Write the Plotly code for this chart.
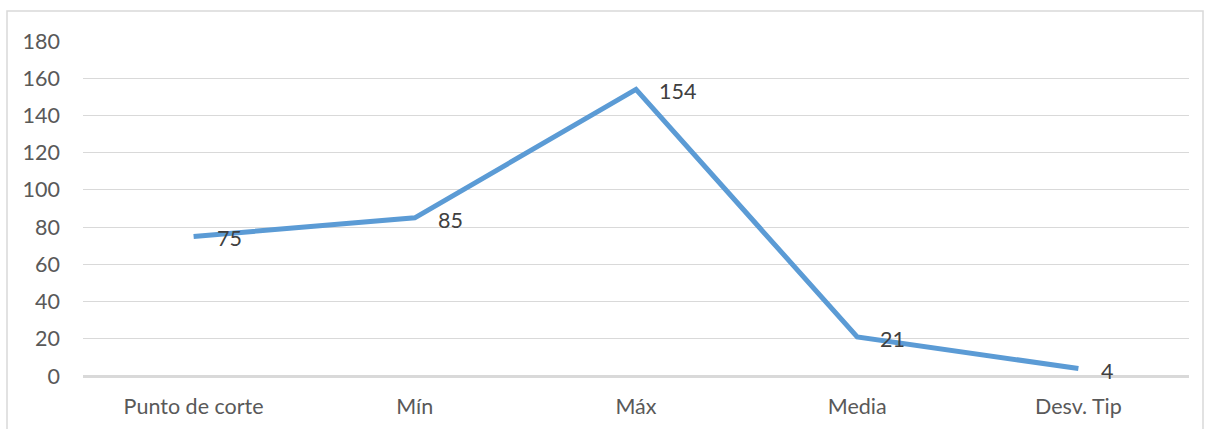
import plotly.graph_objects as go

categories = ["Punto de corte", "Mín", "Máx", "Media", "Desv. Tip"]
values = [75, 85, 154, 21, 4]
labels = ["75", "85", "154", "21", "4"]
y_ticks = [0, 20, 40, 60, 80, 100, 120, 140, 160, 180]

FONT = "Lato"
TXT = "#595959"
FS = 21.5

fig = go.Figure()
fig.add_trace(go.Scatter(
    x=categories, y=values, mode="lines",
    line=dict(color="#5B9BD5", width=5),
    hoverinfo="skip", showlegend=False,
))

for c, v, t in zip(categories, values, labels):
    fig.add_annotation(x=c, y=v, text=t, showarrow=False,
                       xanchor="left", yanchor="middle", xshift=21, yshift=-2,
                       font=dict(family=FONT, size=FS, color="#404040"))

W, H = 1209, 429
l, r, t, b = 83, 20, 41, 53
pw, ph = W - l - r, H - t - b
fig.add_shape(type="rect", xref="paper", yref="paper",
              x0=(7 - l) / pw, x1=(1203 - l) / pw,
              y0=-(H + 5 - t - ph) / ph, y1=(H - 11 - b) / ph,
              line=dict(color="#D9D9D9", width=1.5), layer="below")

fig.update_layout(
    width=W, height=H,
    margin=dict(l=l, r=r, t=t, b=b, autoexpand=False),
    paper_bgcolor="white", plot_bgcolor="white",
    font=dict(family=FONT, size=FS, color=TXT),
    xaxis=dict(type="category", range=[-0.5, 4.5], showgrid=False,
               showline=False, ticks="", zeroline=False, automargin=False,
               tickfont=dict(family=FONT, size=FS, color=TXT),
               ticklabelstandoff=15),
    yaxis=dict(range=[0, 180], tickvals=y_ticks, showgrid=True,
               gridcolor="#D9D9D9", gridwidth=1.3, zeroline=True,
               zerolinecolor="#D9D9D9", zerolinewidth=2.5, automargin=False,
               showline=False, ticks="",
               tickfont=dict(family=FONT, size=FS, color=TXT),
               ticklabelstandoff=22),
)

fig.write_html("out.html")
